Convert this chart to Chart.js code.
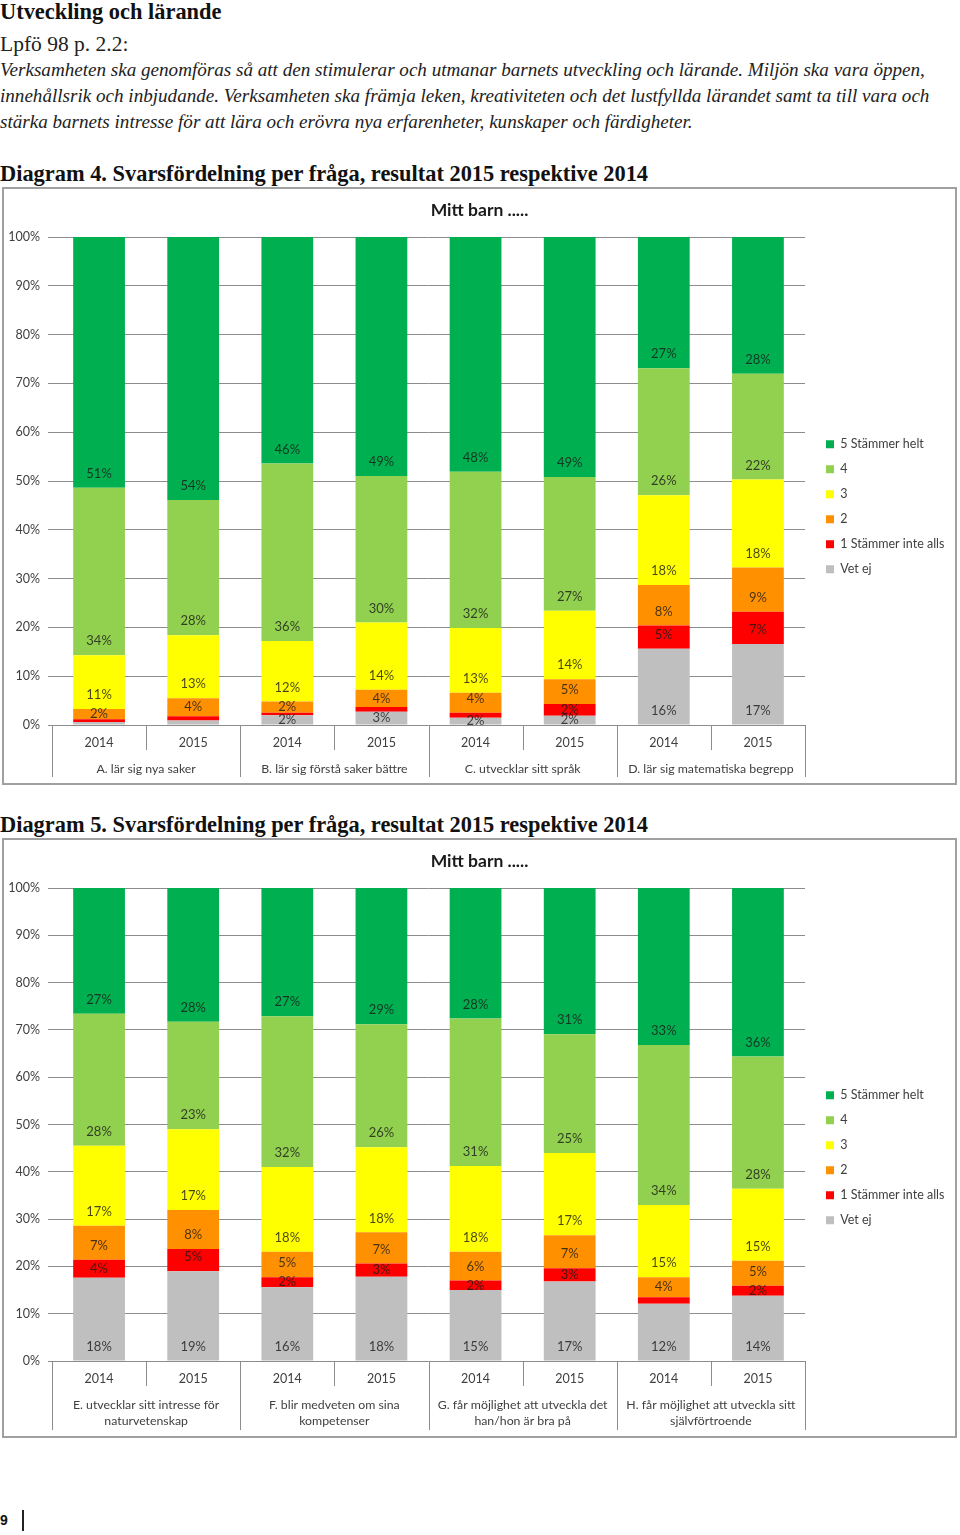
<!DOCTYPE html>
<html lang="sv">
<head>
<meta charset="utf-8">
<title>Utveckling och lärande</title>
<script src="https://cdn.jsdelivr.net/npm/chart.js@4.4.1/dist/chart.umd.min.js"></script>
<style>
  body { margin: 0; background: #fff; }
  #page { position: relative; width: 960px; height: 1535px; font-family: "Liberation Serif", serif; color: #111; }
  .t { position: absolute; left: 0; margin: 0; white-space: nowrap; }
  .h { font-size: 22.4px; line-height: 24px; font-weight: bold; }
  .lead { top: 32px; font-size: 21.5px; line-height: 24px; color: #222; }
  .quote { font-size: 19.1px; line-height: 26px; font-style: italic; color: #222; }
  .box { position: absolute; left: 2px; border: 2px solid #a0a0a0; }
  .box canvas { display: block; }
  .pageno { position: absolute; left: 0; top: 1510px; font: bold 14px "Liberation Sans", sans-serif; line-height: 20px; }
  .pagebar { position: absolute; left: 22px; top: 1510px; width: 2px; height: 21px; background: #222; }
</style>
</head>
<body>
<div id="page">
  <div class="t h" style="top:0">Utveckling och lärande</div>
  <div class="t lead">Lpfö 98 p. 2.2:</div>
  <div class="t quote" style="top:57px">Verksamheten ska genomföras så att den stimulerar och utmanar barnets utveckling och lärande. Miljön ska vara öppen,</div>
  <div class="t quote" style="top:83px">innehållsrik och inbjudande. Verksamheten ska främja leken, kreativiteten och det lustfyllda lärandet samt ta till vara och</div>
  <div class="t quote" style="top:109px">stärka barnets intresse för att lära och erövra nya erfarenheter, kunskaper och färdigheter.</div>

  <div class="t h" style="top:162px">Diagram 4. Svarsfördelning per fråga, resultat 2015 respektive 2014</div>
  <div class="box" style="top:187px"><canvas id="chart4" width="951" height="594"></canvas></div>

  <div class="t h" style="top:813px">Diagram 5. Svarsfördelning per fråga, resultat 2015 respektive 2014</div>
  <div class="box" style="top:838px"><canvas id="chart5" width="951" height="596"></canvas></div>

  <div class="pageno">9</div>
  <div class="pagebar"></div>
</div>

<script>
var years = ['2014', '2015'];
var seriesNames = ['Vet ej', '1 Stämmer inte alls', '2', '3', '4', '5 Stämmer helt'];
var seriesColors = ['#BFBFBF', '#FF0000', '#FF9100', '#FFFF00', '#92D050', '#00B050'];

// Diagram 4 (A-D), per bar: A2014, A2015, B2014, B2015, ...
var groups4 = ['A. lär sig nya saker', 'B. lär sig förstå saker bättre', 'C. utvecklar sitt språk', 'D. lär sig matematiska begrepp'];
var vetEj4 = [0.6, 0.9, 2.0, 2.7, 1.5, 1.9, 15.6, 16.6];
var inteAlls4 = [0.6, 0.9, 0.5, 1.0, 1.0, 2.4, 4.8, 6.6];
var tva4 = [2.1, 3.7, 2.3, 3.5, 4.1, 5.1, 8.3, 9.1];
var tre4 = [11.0, 12.9, 12.4, 13.8, 13.3, 14.0, 18.4, 18.0];
var fyra4 = [34.3, 27.7, 36.4, 30.0, 32.0, 27.4, 26.0, 21.7];
var helt4 = [51.4, 53.9, 46.4, 49.0, 48.1, 49.2, 26.9, 28.0];

// Diagram 5 (E-H)
var groups5 = [
	['E. utvecklar sitt intresse för', 'naturvetenskap'],
	['F. blir medveten om sina', 'kompetenser'],
	['G. får möjlighet att utveckla det', 'han/hon är bra på'],
	['H. får möjlighet att utveckla sitt', 'självförtroende']
];
var vetEj5 = [17.6, 19.0, 15.6, 17.8, 15.0, 16.8, 12.1, 13.8];
var inteAlls5 = [3.8, 4.7, 2.1, 2.8, 2.0, 2.8, 1.4, 2.1];
var tva5 = [7.2, 8.2, 5.4, 6.6, 6.1, 7.0, 4.2, 5.3];
var tre5 = [16.9, 17.1, 17.9, 18.0, 18.1, 17.4, 15.3, 15.2];
var fyra5 = [27.9, 22.7, 31.9, 26.0, 31.2, 25.1, 33.8, 28.0];
var helt5 = [26.6, 28.3, 27.1, 28.8, 27.6, 30.9, 33.2, 35.6];

var FONT = 'Lato, "Open Sans", sans-serif';
var TEXT = '#404040';
var GRID = '#8c8c8c';

// labels inside each segment, near its base like Excel "inside base"
var segmentLabels = {
	id: 'segmentLabels',
	afterDatasetsDraw: function(chart) {
		var ctx = chart.ctx;
		ctx.save();
		ctx.font = '13px ' + FONT;
		ctx.fillStyle = 'rgba(25,25,25,0.8)';
		ctx.textAlign = 'center';
		ctx.textBaseline = 'middle';
		chart.data.datasets.forEach(function(ds, di) {
			chart.getDatasetMeta(di).data.forEach(function(bar, i) {
				var v = ds.data[i];
				if (v < 1.5) return;
				var p = bar.getProps(['x', 'y', 'base'], true);
				var h = p.base - p.y;
				var ly = h >= 20 ? p.base - 14 : (p.y + p.base) / 2;
				ctx.fillText(Math.round(v) + '%', p.x, ly);
			});
		});
		ctx.restore();
	}
};

// two-level category axis: year separators + question group labels
var groupAxis = {
	id: 'groupAxis',
	afterDraw: function(chart, args, opts) {
		var ctx = chart.ctx;
		var x = chart.scales.x;
		var bottom = chart.chartArea.bottom;
		var step = x.getPixelForValue(1) - x.getPixelForValue(0);
		var start = x.getPixelForValue(0) - step / 2;
		ctx.save();
		ctx.strokeStyle = GRID;
		ctx.lineWidth = 1;
		for (var i = 0; i <= x.ticks.length; i++) {
			var px = Math.round(start + i * step) + 0.5;
			ctx.beginPath();
			ctx.moveTo(px, bottom);
			ctx.lineTo(px, i % 2 === 0 ? chart.height - 6 : bottom + 25);
			ctx.stroke();
		}
		ctx.font = '12.3px ' + FONT;
		ctx.fillStyle = TEXT;
		ctx.textAlign = 'center';
		ctx.textBaseline = 'middle';
		opts.groups.forEach(function(g, k) {
			var cx = (x.getPixelForValue(2 * k) + x.getPixelForValue(2 * k + 1)) / 2;
			[].concat(g).forEach(function(line, j) {
				ctx.fillText(line, cx, bottom + 44 + j * 16);
			});
		});
		ctx.restore();
	}
};

// legend at a fixed spot right of the plot, title centred on the whole box
var boxAnchor = {
	id: 'boxAnchor',
	afterLayout: function(chart, args, opts) {
		var lg = chart.legend;
		var pad = lg.options.labels.padding;
		var dx = opts.x - pad - lg.left;
		var dy = opts.y - pad - lg.top;
		lg.left += dx; lg.right += dx;
		lg.top += dy; lg.bottom += dy;

		var tb = chart.titleBlock;
		tb.left = 0;
		tb.right = chart.width;
	}
};

function renderChart(id, groups, series, axisHeight) {
	var labels = [];
	groups.forEach(function() { labels = labels.concat(years); });

	var datasets = series.map(function(data, i) {
		return {
			label: seriesNames[i],
			data: data,
			backgroundColor: seriesColors[i],
			borderWidth: 0,
			categoryPercentage: 1,
			barPercentage: 0.55
		};
	});

	new Chart(document.getElementById(id), {
		type: 'bar',
		data: { labels: labels, datasets: datasets },
		plugins: [segmentLabels, groupAxis, boxAnchor],
		options: {
			responsive: false,
			animation: false,
			layout: { padding: { left: 0, right: 150, top: 0, bottom: 0 } },
			scales: {
				x: {
					stacked: true,
					grid: { display: false, drawTicks: false },
					border: { display: false },
					ticks: { padding: 10.5, color: TEXT, font: { family: FONT, size: 12.5 }, maxRotation: 0, autoSkip: false },
					afterFit: function(s) { s.height = axisHeight; }
				},
				y: {
					stacked: true,
					min: 0,
					max: 100,
					ticks: {
						stepSize: 10,
						padding: 8,
						color: TEXT,
						font: { family: FONT, size: 12.5 },
						callback: function(v) { return v + '%'; }
					},
					grid: { color: GRID, tickLength: 4 },
					border: { display: false },
					afterFit: function(s) { s.width = 48; }
				}
			},
			plugins: {
				title: {
					display: true,
					text: 'Mitt barn .....',
					color: '#1a1a1a',
					font: { family: FONT, size: 17.5, weight: 'bold' },
					padding: { top: 10.5, bottom: 16.5 }
				},
				legend: {
					position: 'chartArea',
					align: 'start',
					reverse: true,
					labels: {
						boxWidth: 8,
						boxHeight: 8,
						padding: 12.5,
						color: TEXT,
						font: { family: FONT, size: 12.5 }
					}
				},
				tooltip: { enabled: false },
				groupAxis: { groups: groups },
				boxAnchor: { x: 822, y: 249 }
			}
		}
	});
}

renderChart('chart4', groups4, [vetEj4, inteAlls4, tva4, tre4, fyra4, helt4], 58);
renderChart('chart5', groups5, [vetEj5, inteAlls5, tva5, tre5, fyra5, helt5], 75);
</script>
</body>
</html>
